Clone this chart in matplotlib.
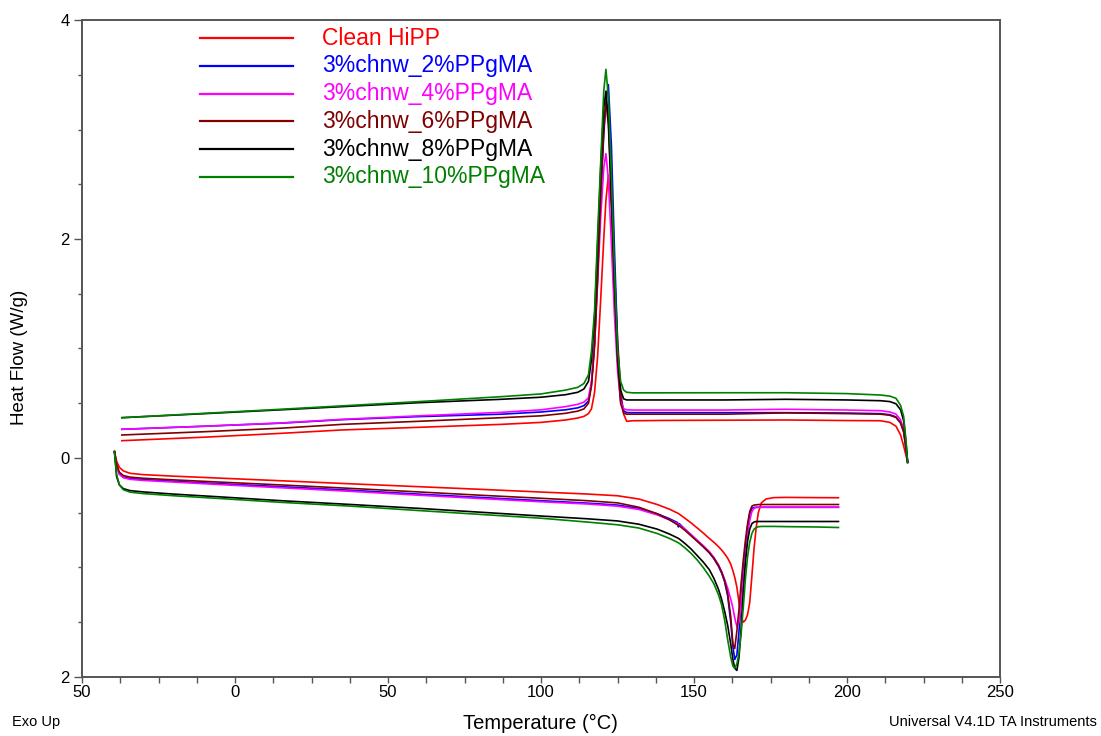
import numpy as np
import matplotlib
matplotlib.use("Agg")
from matplotlib import pyplot as plt

plt.rcParams['font.family'] = ['Liberation Sans', 'DejaVu Sans']

names = ["Clean HiPP", "3%chnw_2%PPgMA", "3%chnw_4%PPgMA",
         "3%chnw_6%PPgMA", "3%chnw_8%PPgMA", "3%chnw_10%PPgMA"]
colors = ["#ff0000", "#0000ff", "#ff00ff", "#800000", "#000000", "#008000"]

# cooling scans (upper traces), temperature in C
cool_T = [-37, -10, 15, 35, 60, 87, 100, 108, 112, 114, 115.5, 116.5, 117.5,
          118.5, 119.5, 120.5, 121.2, 122, 123, 124, 125, 126, 127, 128, 130,
          140, 160, 180, 200, 211, 214, 216, 217.5, 218.5, 219.3, 219.8]

cool_red = [0.158, 0.19, 0.225, 0.256, 0.28, 0.307, 0.325, 0.347, 0.365, 0.38,
            0.405, 0.45, 0.60, 0.93, 1.45, 2.00, 2.35, 2.58, 2.30, 1.70, 1.10,
            0.62, 0.40, 0.335, 0.34, 0.343, 0.345, 0.347, 0.342, 0.34, 0.325,
            0.29, 0.21, 0.11, 0.02, -0.035]
cool_blue = [0.262, 0.29, 0.318, 0.35, 0.378, 0.40, 0.42, 0.44, 0.458, 0.478,
             0.52, 0.68, 1.05, 1.70, 2.40, 2.95, 3.25, 3.41, 2.85, 1.90, 1.05,
             0.55, 0.43, 0.415, 0.414, 0.414, 0.414, 0.414, 0.41, 0.405, 0.395,
             0.375, 0.32, 0.24, 0.08, -0.04]
cool_magenta = [0.262, 0.29, 0.32, 0.353, 0.385, 0.417, 0.44, 0.469, 0.49, 0.51,
                0.55, 0.70, 1.05, 1.60, 2.20, 2.65, 2.78, 2.55, 1.95, 1.30, 0.80,
                0.52, 0.45, 0.44, 0.438, 0.438, 0.438, 0.445, 0.438, 0.432, 0.42,
                0.40, 0.35, 0.26, 0.08, -0.04]
cool_maroon = [0.21, 0.24, 0.272, 0.307, 0.335, 0.368, 0.385, 0.408, 0.428, 0.448,
               0.50, 0.66, 1.02, 1.65, 2.40, 3.00, 3.25, 3.05, 2.35, 1.55, 0.90,
               0.50, 0.41, 0.40, 0.40, 0.40, 0.40, 0.412, 0.405, 0.40, 0.39,
               0.37, 0.32, 0.24, 0.08, -0.04]
cool_black = [0.368, 0.405, 0.44, 0.469, 0.505, 0.536, 0.555, 0.578, 0.60, 0.63,
              0.70, 0.90, 1.28, 1.95, 2.65, 3.20, 3.35, 3.10, 2.40, 1.60, 0.95,
              0.62, 0.54, 0.53, 0.53, 0.53, 0.53, 0.536, 0.53, 0.523, 0.515,
              0.495, 0.44, 0.34, 0.13, -0.04]
cool_green = [0.368, 0.408, 0.445, 0.476, 0.515, 0.56, 0.585, 0.62, 0.645, 0.68,
              0.76, 0.98, 1.35, 2.05, 2.70, 3.35, 3.55, 3.30, 2.58, 1.72, 1.00,
              0.70, 0.62, 0.60, 0.595, 0.595, 0.596, 0.596, 0.588, 0.575, 0.565,
              0.545, 0.48, 0.38, 0.15, -0.04]

# heating scans (lower traces)
heat_T = [-39.4, -38.7, -37.8, -36.5, -34.3, -30, -20, -5, 15, 38, 60, 80,
          100, 115, 125, 132, 138, 142, 144.6, 144.9, 145.2, 147, 149, 151, 153,
          155, 156.5, 158, 159, 160, 161, 162, 162.7, 163.3, 164, 164.7, 165.4,
          166.1, 166.8, 167.5, 168.2, 168.9, 169.6, 170.3, 171, 172, 173.5, 176,
          180, 190, 197.2]

heat_red = [0.058, -0.03, -0.085, -0.118, -0.14, -0.152, -0.166, -0.184, -0.208,
            -0.236, -0.262, -0.286, -0.311, -0.329, -0.345, -0.375, -0.425, -0.468,
            -0.503, -0.508, -0.513, -0.55, -0.592, -0.638, -0.685, -0.735, -0.77,
            -0.81, -0.84, -0.875, -0.915, -0.97, -1.03, -1.09, -1.18, -1.32,
            -1.45, -1.50, -1.48, -1.43, -1.32, -1.08, -0.83, -0.64, -0.50, -0.41,
            -0.375, -0.362, -0.36, -0.362, -0.363]
heat_blue = [0.058, -0.07, -0.145, -0.175, -0.188, -0.197, -0.213, -0.235,
             -0.262, -0.295, -0.33, -0.36, -0.39, -0.412, -0.43, -0.46, -0.51,
             -0.555, -0.59, -0.63, -0.60, -0.65, -0.70, -0.755, -0.81, -0.865,
             -0.92, -0.99, -1.05, -1.13, -1.26, -1.50, -1.72, -1.84, -1.80, -1.58,
             -1.30, -1.02, -0.80, -0.63, -0.51, -0.46, -0.452, -0.45, -0.45,
             -0.45, -0.45, -0.45, -0.45, -0.45, -0.45]
heat_magenta = [0.058, -0.07, -0.15, -0.18, -0.195, -0.205, -0.22, -0.243,
                -0.272, -0.305, -0.34, -0.37, -0.40, -0.42, -0.44, -0.47, -0.52,
                -0.565, -0.60, -0.605, -0.61, -0.65, -0.70, -0.75, -0.80, -0.855,
                -0.91, -0.98, -1.04, -1.11, -1.19, -1.29, -1.37, -1.46, -1.54,
                -1.50, -1.32, -1.10, -0.88, -0.70, -0.57, -0.49, -0.46, -0.452,
                -0.45, -0.45, -0.45, -0.45, -0.45, -0.45, -0.45]
heat_maroon = [0.058, -0.06, -0.13, -0.16, -0.175, -0.185, -0.20, -0.22, -0.246,
               -0.278, -0.31, -0.34, -0.368, -0.39, -0.41, -0.45, -0.51, -0.565,
               -0.61, -0.615, -0.62, -0.66, -0.71, -0.76, -0.81, -0.865, -0.915,
               -0.98, -1.04, -1.12, -1.24, -1.45, -1.70, -1.74, -1.58, -1.38,
               -1.14, -0.93, -0.75, -0.60, -0.49, -0.44, -0.43, -0.428, -0.425,
               -0.425, -0.425, -0.425, -0.425, -0.425, -0.425]
heat_black = [0.058, -0.17, -0.245, -0.28, -0.298, -0.31, -0.33, -0.355, -0.39,
              -0.425, -0.46, -0.495, -0.53, -0.555, -0.575, -0.605, -0.65, -0.695,
              -0.73, -0.735, -0.74, -0.78, -0.83, -0.89, -0.95, -1.02, -1.10,
              -1.20, -1.29, -1.40, -1.53, -1.70, -1.84, -1.92, -1.94, -1.82,
              -1.55, -1.22, -0.95, -0.76, -0.65, -0.60, -0.585, -0.58, -0.58,
              -0.58, -0.58, -0.58, -0.58, -0.58, -0.58]
heat_green = [0.058, -0.15, -0.245, -0.29, -0.312, -0.325, -0.345, -0.37, -0.405,
              -0.44, -0.48, -0.515, -0.55, -0.585, -0.61, -0.64, -0.69, -0.735,
              -0.77, -0.775, -0.78, -0.82, -0.87, -0.93, -1.00, -1.08, -1.15,
              -1.25, -1.34, -1.48, -1.66, -1.82, -1.90, -1.92, -1.88, -1.78,
              -1.60, -1.36, -1.10, -0.90, -0.77, -0.69, -0.65, -0.635, -0.628,
              -0.625, -0.625, -0.625, -0.627, -0.63, -0.635]

cool = [cool_red, cool_blue, cool_magenta, cool_maroon, cool_black, cool_green]
heat = [heat_red, heat_blue, heat_magenta, heat_maroon, heat_black, heat_green]

x_ticks = [-50, 0, 50, 100, 150, 200, 250]
x_labels = ["50", "0", "50", "100", "150", "200", "250"]
y_ticks = [-2, 0, 2, 4]
y_labels = ["2", "0", "2", "4"]

fig = plt.figure(figsize=(11.01, 7.36), dpi=100)
ax = fig.add_axes([0.0745, 0.0802, 0.8338, 0.8926])

for c, h, col in zip(cool, heat, colors):
    ax.plot(cool_T, c, color=col, lw=1.2)
    ax.plot(heat_T, h, color=col, lw=1.2)

ax.set_xlim(-50, 250)
ax.set_ylim(-2, 4)
ax.set_xticks(x_ticks)
ax.set_xticklabels(x_labels)
ax.set_xticks(np.arange(-50, 251, 12.5), minor=True)
ax.set_yticks(y_ticks)
ax.set_yticklabels(y_labels)
ax.set_yticks(np.arange(-2, 4.01, 0.5), minor=True)

frame = "#555555"
for s in ax.spines.values():
    s.set_color(frame)
    s.set_linewidth(1.4)
ax.tick_params(which='both', direction='out', color=frame, width=1.0,
               labelsize=12, top=False, right=False)
ax.tick_params(axis='y', which='major', length=5.5, pad=3.5)
ax.tick_params(axis='y', which='minor', length=3)
ax.tick_params(axis='x', which='major', length=4.5, pad=1.5)
ax.tick_params(axis='x', which='minor', length=4.5)

# legend: coloured line plus coloured name
for i, (name, col) in enumerate(zip(names, colors)):
    yy = 0.9726 - i * 0.0423
    ax.plot([0.1285, 0.2298], [yy, yy], color=col, lw=1.6,
            transform=ax.transAxes)
    ax.text(0.2614, yy, name, color=col, fontsize=16.5, va='center',
            ha='left', transform=ax.transAxes)

fig.text(0.018, 0.515, "Heat Flow (W/g)", rotation=90, fontsize=13.5,
         ha='center', va='center')
fig.text(0.491, 0.017, "Temperature (\u00b0C)", fontsize=14.5,
         ha='center', va='center')
fig.text(0.011, 0.019, "Exo Up", fontsize=10.5, ha='left', va='center')
fig.text(0.996, 0.019, "Universal V4.1D TA Instruments", fontsize=10.5,
         ha='right', va='center')

fig.savefig("out.png", dpi=100)
